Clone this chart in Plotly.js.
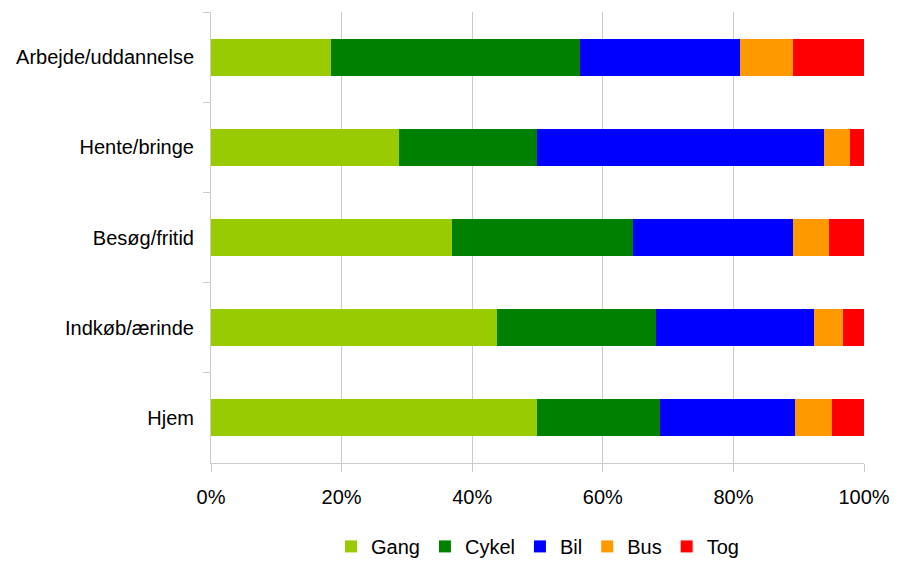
<!DOCTYPE html>
<html>
<head>
<meta charset="utf-8">
<script src="https://cdn.plot.ly/plotly-3.0.1.min.js"></script>
<style>html,body{margin:0;padding:0;background:#fff;}#chart{width:899px;height:561px;}</style>
</head>
<body>
<div id="chart"></div>
<script>
const categories = ["Arbejde/uddannelse", "Hente/bringe", "Besøg/fritid", "Indkøb/ærinde", "Hjem"];
const gang  = [18.4, 28.8, 36.9, 43.8, 49.9];
const cykel = [38.1, 21.1, 27.8, 24.3, 18.8];
const bil   = [24.5, 43.9, 24.4, 24.2, 20.7];
const bus   = [8.1, 4.0, 5.5, 4.5, 5.7];
const tog   = [10.9, 2.2, 5.4, 3.2, 4.9];
const seriesNames = ["Gang", "Cykel", "Bil", "Bus", "Tog"];
const seriesValues = [gang, cykel, bil, bus, tog];
const seriesColors = ["#99cc00", "#008000", "#0000ff", "#ff9900", "#ff0000"];
const xTickVals = [0, 20, 40, 60, 80, 100];

const traces = seriesNames.map((name, i) => ({
  type: "bar",
  orientation: "h",
  name: name,
  x: seriesValues[i],
  y: categories,
  marker: {color: seriesColors[i], line: {width: 0}},
  width: 0.41
}));

const layout = {
  width: 899,
  height: 561,
  margin: {l: 211, r: 35, t: 12, b: 98, pad: 0},
  paper_bgcolor: "#ffffff",
  plot_bgcolor: "#ffffff",
  font: {family: "Liberation Sans, Arial, sans-serif", size: 20, color: "#000000"},
  barmode: "stack",
  showlegend: true,
  legend: {
    orientation: "h",
    x: 0.5, xanchor: "center",
    xref: "paper",
    yref: "container",
    y: 0.026, yanchor: "middle",
    font: {size: 20, color: "#000000"},
    traceorder: "normal"
  },
  xaxis: {
    range: [0, 100],
    tickvals: xTickVals,
    ticktext: xTickVals.map(v => v + "%"),
    showgrid: true,
    gridcolor: "#cccccc",
    gridwidth: 1,
    zeroline: false,
    showline: true,
    linecolor: "#cccccc",
    linewidth: 1,
    ticks: "outside",
    ticklen: 8,
    tickcolor: "#cccccc",
    tickfont: {size: 20},
    ticklabelstandoff: 8,
    automargin: false,
    fixedrange: true
  },
  yaxis: {
    type: "category",
    autorange: "reversed",
    showgrid: false,
    zeroline: false,
    showline: true,
    linecolor: "#cccccc",
    linewidth: 1,
    ticks: "outside",
    tickson: "boundaries",
    ticklen: 7,
    tickcolor: "#cccccc",
    tickfont: {size: 20},
    ticklabelstandoff: 12,
    automargin: false,
    fixedrange: true
  }
};

Plotly.newPlot("chart", traces, layout, {displayModeBar: false, staticPlot: true});
</script>
</body>
</html>
